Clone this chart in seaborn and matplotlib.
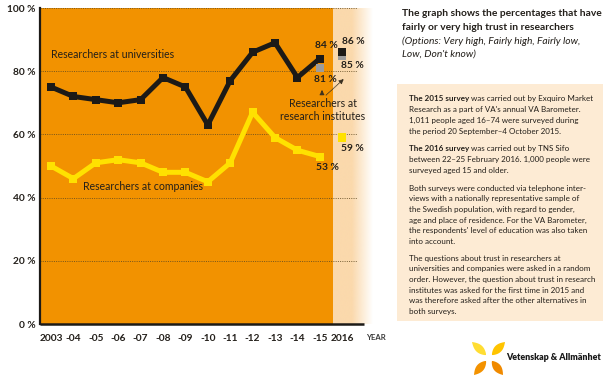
import numpy as np
import pandas as pd
import matplotlib
matplotlib.use("Agg")
import matplotlib.pyplot as plt
import seaborn as sns
from matplotlib.patches import Rectangle, Polygon

# ---------------- data ----------------
years = ["2003", "-04", "-05", "-06", "-07", "-08", "-09", "-10", "-11",
         "-12", "-13", "-14", "-15", "2016"]
universities = [75, 72, 71, 70, 71, 78, 75, 63, 77, 86, 89, 78, 84]   # 2003-2015
companies = [50, 46, 51, 52, 51, 48, 48, 45, 51, 67, 59, 55, 53]      # 2003-2015
universities_2016 = 86
companies_2016 = 59
institutes = [81, 85]            # 2015, 2016
ytick_values = [0, 20, 40, 60, 80, 100]
ytick_labels = ["0 %", "20 %", "40 %", "60 %", "80 %", "100 %"]

ORANGE = "#F29200"
PEACH = "#FBD9AC"
BOX = "#FDEBD4"
BLACK = "#1c1a17"
YELLOW = "#FFE100"
GREY = "#9c9c9c"
TXT = "#231f1a"

sns.set_theme(style="white")
plt.rcParams['font.family'] = ['Lato', 'DejaVu Sans']

W, H = 603, 378
fig = plt.figure(figsize=(W / 100, H / 100), dpi=100)
fig.patch.set_facecolor('white')


def fx(px):
    return px / W


def fy(py):
    return 1 - py / H


STEP = 22.4
X0PX = 51
ax = fig.add_axes([fx(40), fy(324), (380 - 40) / W, (324 - 8) / H])
xl = (40 - X0PX) / STEP
xr = (380 - X0PX) / STEP


def dx(px):
    return (px - X0PX) / STEP


def dy(py):
    return (324 - py) / 3.16


ax.set_facecolor('white')
# backgrounds
ax.axvspan(xl, dx(333), color=ORANGE, zorder=0, lw=0)
grad_w = 200
xs = np.linspace(dx(333), xr, grad_w)
alpha = np.clip((dx(373) - xs) / (dx(373) - dx(352)), 0, 1)
rgba = np.zeros((1, grad_w, 4))
c = matplotlib.colors.to_rgb(PEACH)
rgba[..., 0], rgba[..., 1], rgba[..., 2] = c
rgba[0, :, 3] = alpha
ax.imshow(rgba, extent=[dx(333), xr, 0, 100], aspect='auto', zorder=0,
          interpolation='bilinear')

# grid lines
ax.hlines([20, 40, 60, 80, 100], xl, dx(357), colors='#5f4a22',
          linestyles=(0, (1, 1.3)), lw=0.7, zorder=1, alpha=0.85, clip_on=False)

# main lines
pos = list(range(len(years)))
df = pd.DataFrame({
    'pos': pos[:13] * 2,
    'value': universities + companies,
    'series': ['Researchers at universities'] * 13 + ['Researchers at companies'] * 13,
})
sns.lineplot(data=df, x='pos', y='value', hue='series',
             palette={'Researchers at universities': BLACK,
                      'Researchers at companies': YELLOW},
             marker='s', markersize=6.3, linewidth=3.6, markeredgewidth=0,
             legend=False, ax=ax, zorder=4)

# single points
dfp = pd.DataFrame({
    'pos': [12, 13, 13, 13],
    'value': [institutes[0], institutes[1], universities_2016, companies_2016],
    'series': ['inst', 'inst', 'uni', 'comp'],
})
sns.scatterplot(data=dfp, x='pos', y='value', hue='series',
                palette={'inst': GREY, 'uni': BLACK, 'comp': YELLOW},
                marker='s', s=36, linewidth=0, legend=False, ax=ax, zorder=5)

ax.set_xlim(xl, xr)
ax.set_ylim(0, 100)
ax.set_xlabel("")
ax.set_ylabel("")
for s in ['top', 'right', 'bottom']:
    ax.spines[s].set_visible(False)
ax.spines['left'].set_color(BLACK)
ax.spines['left'].set_linewidth(1.6)
ax.spines['left'].set_zorder(6)
ax.plot([xl, dx(364)], [0, 0], color=BLACK, lw=1.8, clip_on=False, zorder=6,
        solid_capstyle='butt')

ax.set_xticks(pos)
ax.set_xticklabels(years)
ax.set_yticks(ytick_values)
ax.set_yticklabels(ytick_labels)
ax.tick_params(axis='both', length=0, labelsize=7.3, colors=TXT)
ax.tick_params(axis='x', pad=7)
ax.tick_params(axis='y', pad=3.5)
for t in ax.get_xticklabels() + ax.get_yticklabels():
    t.set_fontweight('bold')

ax.text(dx(376), -4.4, "YEAR", fontsize=5.6, fontweight='bold', color='#3a3a3a',
        ha='center', va='center', clip_on=False)

# in-chart annotations
ax.text(0.0, dy(55), "Researchers at universities", fontsize=7.6, color=TXT,
        ha='left', va='center', zorder=7)
ax.text(dx(83), dy(187), "Researchers at companies", fontsize=7.6, color=TXT,
        ha='left', va='center', zorder=7)
ax.text(dx(323), dy(110), "Researchers at\nresearch institutes", fontsize=7.6,
        color=TXT, ha='center', va='center', linespacing=1.25, zorder=7)
for txt, px, py in [("84 %", 326, 46), ("86 %", 353, 42), ("85 %", 352, 66),
                    ("81 %", 325, 80), ("59 %", 352, 149), ("53 %", 327, 168)]:
    ax.text(dx(px), dy(py), txt, fontsize=7.4, fontweight='bold', color=TXT,
            ha='center', va='center', zorder=7)
arrow_kw = dict(arrowstyle='-|>,head_length=0.25,head_width=0.12', color='#3a3020',
                lw=0.6, linestyle=(0, (1, 1)))
ax.annotate("", xy=(dx(322), dy(87)), xytext=(dx(322), dy(97)), arrowprops=arrow_kw,
            zorder=7)
ax.annotate("", xy=(dx(346), dy(77)), xytext=(dx(324), dy(97)), arrowprops=arrow_kw,
            zorder=7)

# ---------------- right panel ----------------
title_lines = [("The graph shows the percentages that have", 'bold', 'normal', 13),
               ("fairly or very high trust in researchers", 'bold', 'normal', 27),
               ("(Options: Very high, Fairly high, Fairly low,", 'normal', 'italic', 41),
               ("Low, Don't know)", 'normal', 'italic', 54)]
for txt, wt, st, py in title_lines:
    fig.text(fx(402), fy(py), txt, fontsize=7.35, fontweight=wt, fontstyle=st,
             color=TXT, ha='left', va='center')

fig.patches.append(Rectangle((fx(397), fy(321)), (603 - 397) / W, (321 - 84) / H,
                             transform=fig.transFigure, facecolor=BOX, lw=0,
                             zorder=0))

BFS = 5.8
paragraphs = [
    (99, [("The 2015 survey", " was carried out by Exquiro Market"),
          ("", "Research as a part of VA's annual VA Barometer."),
          ("", "1,011 people aged 16–74 were surveyed during"),
          ("", "the period 20 September–4 October 2015.")]),
    (149, [("The 2016 survey", " was carried out by TNS Sifo"),
           ("", "between 22–25 February 2016. 1,000 people were"),
           ("", "surveyed aged 15 and older.")]),
    (188, [("", "Both surveys were conducted via telephone inter-"),
           ("", "views with a nationally representative sample of"),
           ("", "the Swedish population, with regard to gender,"),
           ("", "age and place of residence. For the VA Barometer,"),
           ("", "the respondents' level of education was also taken"),
           ("", "into account.")]),
    (258, [("", "The questions about trust in researchers at"),
           ("", "universities and companies were asked in a random"),
           ("", "order. However, the question about trust in research"),
           ("", "institutes was asked for the first time in 2015 and"),
           ("", "was therefore asked after the other alternatives in"),
           ("", "both surveys.")]),
]
renderer = fig.canvas.get_renderer()
LS = 10.7
for py0, lines in paragraphs:
    for i, (b, r) in enumerate(lines):
        py = py0 + i * LS
        xpos = fx(409)
        if b:
            tb = fig.text(xpos, fy(py), b, fontsize=BFS, fontweight='bold',
                          color=TXT, ha='left', va='center')
            bb = tb.get_window_extent(renderer)
            xpos = bb.x1 / W
        fig.text(xpos, fy(py), r, fontsize=BFS, color=TXT, ha='left', va='center')

# ---------------- logo ----------------
def leaf(c, t, w, color):
    cx, cy = c
    tx, ty = t
    vx, vy = tx - cx, ty - cy
    L = np.hypot(vx, vy)
    ux, uy = vx / L, vy / L
    nx, ny = -uy, ux
    s = np.linspace(0, 1, 30)
    prof = w * np.sin(np.pi * s ** 0.7) * (0.4 + 0.6 * s)
    left = [(cx + ux * L * si + nx * p, cy + uy * L * si + ny * p) for si, p in zip(s, prof)]
    right = [(cx + ux * L * si - nx * p, cy + uy * L * si - ny * p) for si, p in zip(s, prof)]
    pts = left + right[::-1]
    pts = [(fx(a), fy(b)) for a, b in pts]
    fig.patches.append(Polygon(pts, closed=True, transform=fig.transFigure,
                               facecolor=color, lw=0))


leaf((486, 355), (472, 342), 6.0, "#FFDD33")
leaf((492, 355), (505, 342), 6.0, "#FFC400")
leaf((486, 361), (474, 375), 6.0, "#F39200")
leaf((492, 361), (503, 375), 6.0, "#F08A00")
fig.text(fx(506), fy(358), "Vetenskap & Allmänhet", fontsize=6.4, fontweight='heavy',
         color='#1a1a1a', ha='left', va='center')

fig.savefig("out.png", dpi=100, facecolor='white')
